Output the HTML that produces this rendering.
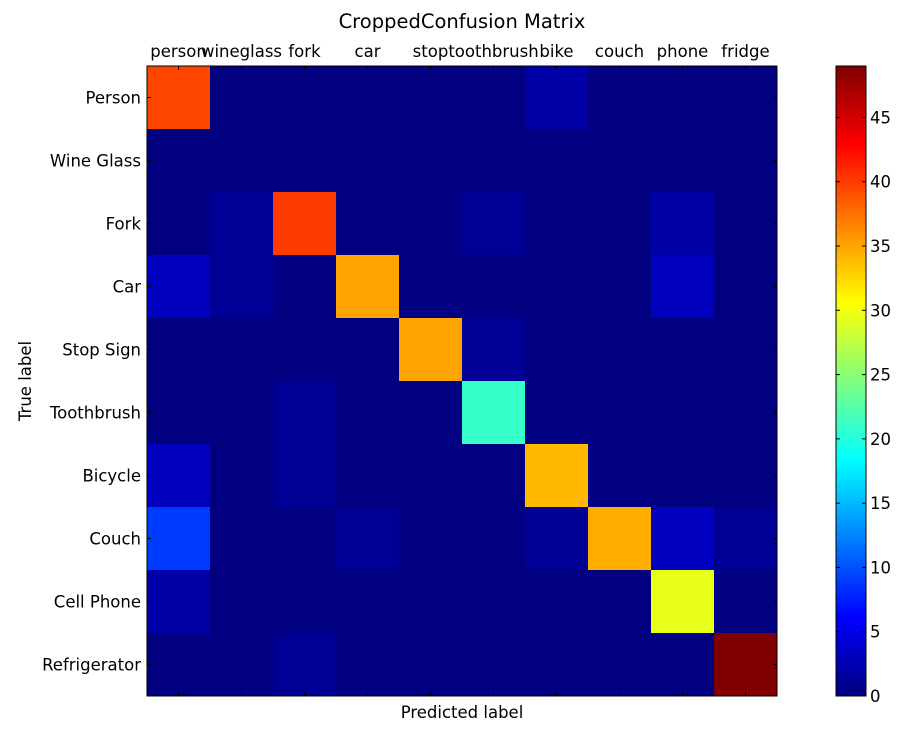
<!DOCTYPE html>
<html><head><meta charset="utf-8"><style>
body{margin:0;background:#fff;font-family:"DejaVu Sans",sans-serif;}
</style></head><body>
<svg id="chart" width="910" height="730" xmlns="http://www.w3.org/2000/svg" font-family="DejaVu Sans, sans-serif">
<defs><linearGradient id="jet" x1="0" y1="1" x2="0" y2="0"></linearGradient></defs>
<rect width="910" height="730" fill="#fff"/>
<text x="462" y="28" text-anchor="middle" font-size="19.5">CroppedConfusion Matrix</text>
<g id="cells"></g>
<g id="axes"></g>
<text x="462" y="718" text-anchor="middle" font-size="16.5">Predicted label</text>
<text x="31" y="381" text-anchor="middle" font-size="16.5" transform="rotate(-90 31 381)">True label</text>
</svg>
<script>
const predLabels = ["person","wineglass","fork","car","stop","toothbrush","bike","couch","phone","fridge"];
const trueLabels = ["Person","Wine Glass","Fork","Car","Stop Sign","Toothbrush","Bicycle","Couch","Cell Phone","Refrigerator"];
const row0 = [39.5,0,0,0,0,0,2,0,0,0];
const row1 = [0,0,0,0,0,0,0,0,0,0];
const row2 = [0,1,40,0,0,1,0,0,2,0];
const row3 = [3,1,0,35,0,0,0,0,3,0];
const row4 = [0,0,0,0,35,1,0,0,0,0];
const row5 = [0,0,1,0,0,21,0,0,0,0];
const row6 = [3,0,1,0,0,0,34,0,0,0];
const row7 = [9,0,0,1,0,0,1,34.5,3,1];
const row8 = [2,0,0,0,0,0,0,0,29.5,0];
const row9 = [0,0,1,0,0,0,0,0,0,49];
const matrix = [row0,row1,row2,row3,row4,row5,row6,row7,row8,row9];
const vmin = 0, vmax = 49;
const cbTicks = [0,5,10,15,20,25,30,35,40,45];

const NS="http://www.w3.org/2000/svg";
const X0=147,Y0=66,W=630,H=630,CB_X=836,CB_W=30;
const n=predLabels.length, cw=W/n, ch=H/trueLabels.length;
function xScale(i){return X0+i*cw;}
function yScale(j){return Y0+j*ch;}
function cbScale(v){return Y0+H-(v-vmin)/(vmax-vmin)*H;}
function clip(v){return Math.max(0,Math.min(1,v));}
function jet(t){
  const r=clip(1.5-Math.abs(4*t-3)),g=clip(1.5-Math.abs(4*t-2)),b=clip(1.5-Math.abs(4*t-1));
  return `rgb(${Math.round(r*255)},${Math.round(g*255)},${Math.round(b*255)})`;
}
function mk(tag,attrs,parent){const e=document.createElementNS(NS,tag);for(const k in attrs)e.setAttribute(k,attrs[k]);parent.appendChild(e);return e;}
const cells=document.getElementById('cells'), axes=document.getElementById('axes');
matrix.forEach((row,j)=>row.forEach((v,i)=>{
  const r=mk('rect',{x:xScale(i),y:yScale(j),width:cw+0.5,height:ch+0.5,fill:jet((v-vmin)/(vmax-vmin))},cells);
  
  
}));
const frame=mk('rect',{x:X0,y:Y0,width:W,height:H,fill:'none',stroke:'#000','stroke-width':1},axes);


predLabels.forEach((l,i)=>{
  const cx=xScale(i)+cw/2;
  mk('line',{x1:cx,y1:Y0,x2:cx,y2:Y0+4,stroke:'#000'},axes);
  mk('line',{x1:cx,y1:Y0+H,x2:cx,y2:Y0+H-4,stroke:'#000'},axes);
  const t=mk('text',{x:cx,y:Y0-9,'text-anchor':'middle','font-size':16.5},axes);
  t.textContent=l;
  
  
});
trueLabels.forEach((l,j)=>{
  const cy=yScale(j)+ch/2;
  mk('line',{x1:X0,y1:cy,x2:X0+4,y2:cy,stroke:'#000'},axes);
  mk('line',{x1:X0+W,y1:cy,x2:X0+W-4,y2:cy,stroke:'#000'},axes);
  const t=mk('text',{x:X0-6,y:cy+6,'text-anchor':'end','font-size':16.5},axes);
  t.textContent=l;
  
  
});
const grad=document.getElementById('jet');
for(let k=0;k<=40;k++){mk('stop',{offset:(k/40),'stop-color':jet(k/40)},grad);}
const cb=mk('rect',{x:CB_X,y:Y0,width:CB_W,height:H,fill:'url(#jet)',stroke:'#000','stroke-width':1},axes);


cbTicks.forEach(v=>{
  const y=cbScale(v);
  mk('line',{x1:CB_X,y1:y,x2:CB_X+4,y2:y,stroke:'#000'},axes);
  mk('line',{x1:CB_X+CB_W,y1:y,x2:CB_X+CB_W-4,y2:y,stroke:'#000'},axes);
  const t=mk('text',{x:CB_X+CB_W+4,y:y+6,'font-size':16.5},axes);
  t.textContent=v;
  
  
});
</script>
</body></html>
